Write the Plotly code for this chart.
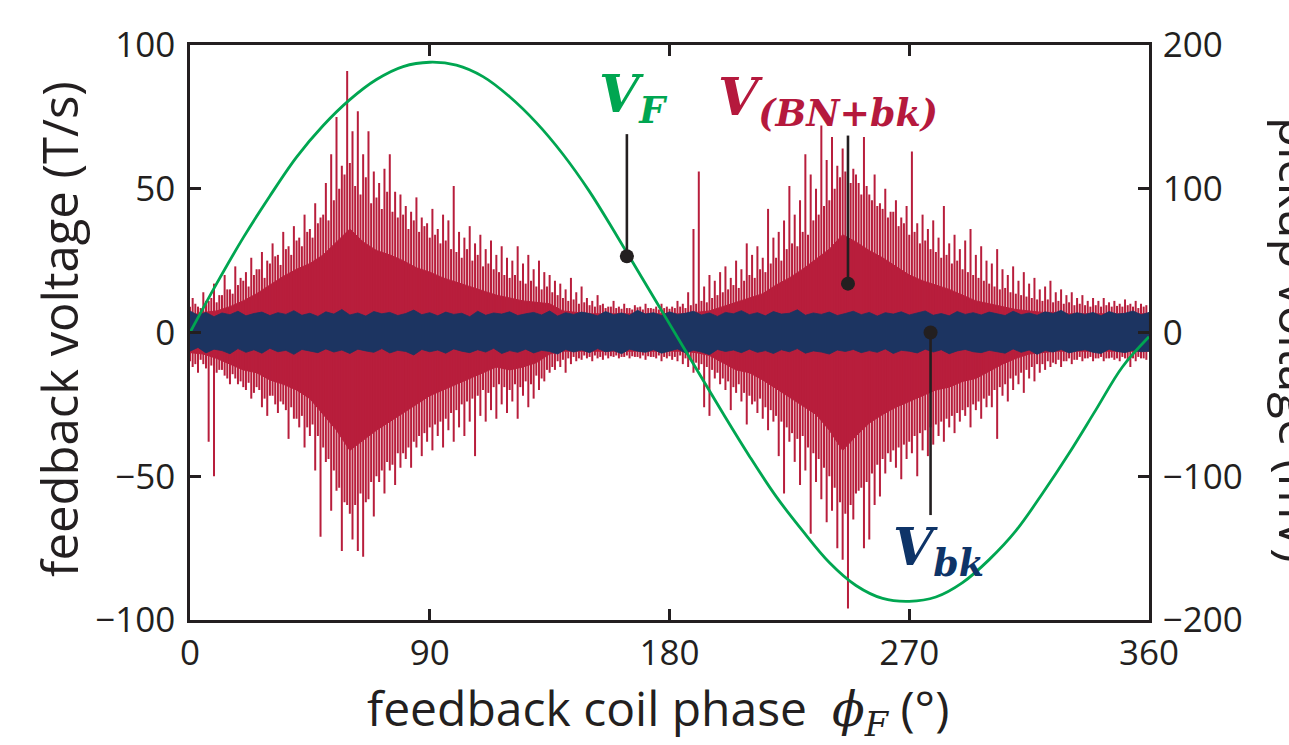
import plotly.graph_objects as go

# ---------------- data ----------------
# feedback coil voltage V_F (T/s), every 10 degrees
PHASE_VF = list(range(0, 361, 10))
VF_TS = [0, 17, 33, 47.5, 61, 72, 81, 88, 92.5, 94,
         93, 89, 82, 73, 62, 49, 34, 18.5, 3, -12.5,
         -28, -43, -57, -69, -80, -88, -92.5, -93.5, -92, -87,
         -79, -69, -56, -42, -27, -12, -1.5]

# V_(BN+bk) dense core envelope (mV), every 5 degrees
PHASE_CORE = list(range(0, 361, 5))
RED_CORE_UP = [12, 14, 15, 18, 22, 27, 33, 39, 44, 48,
               54, 63, 72, 63, 57, 54, 50, 45, 42, 38,
               35, 32, 29, 26, 24, 22, 21, 20, 15, 14,
               13, 13, 13, 13, 13, 13, 13, 13, 14, 15,
               18, 21, 24, 27, 33, 38, 44, 51, 58, 68,
               63, 57, 52, 46, 40, 36, 33, 30, 26, 22,
               20, 18, 16, 15, 14, 14, 13, 13, 13, 13,
               13, 13, 13]
RED_CORE_LO = [-14, -15, -18, -22, -26, -28, -33, -36, -40, -46,
               -57, -68, -82, -75, -68, -62, -56, -50, -44, -40,
               -36, -32, -28, -24, -26, -24, -21, -15, -13, -13,
               -13, -13, -13, -13, -13, -13, -13, -13, -14, -16,
               -21, -26, -28, -33, -39, -45, -51, -57, -68, -82,
               -72, -63, -57, -52, -48, -44, -40, -38, -34, -32,
               -27, -22, -18, -15, -14, -13, -13, -13, -13, -13,
               -13, -13, -13]

# V_(BN+bk) tall spike tips (mV), odd degrees 1..359
PHASE_SPIKE_ODD = list(range(1, 360, 2))
RED_SPIKE_TOP_ODD = [24, 18, 28, 22, 34, 26, 40, 30, 46, 38,
                     42, 52, 44, 56, 50, 62, 54, 70, 60, 74,
                     66, 82, 72, 90, 80, 104, 124, 150, 116, 182,
                     140, 154, 124, 140, 112, 104, 114, 124, 98, 96,
                     88, 84, 94, 80, 76, 86, 72, 82, 78, 102,
                     70, 66, 74, 62, 68, 58, 64, 54, 60, 52,
                     50, 60, 48, 54, 44, 50, 42, 40, 36, 34,
                     30, 38, 28, 32, 24, 22, 26, 20, 18, 22,
                     18, 20, 17, 19, 18, 20, 17, 18, 20, 18,
                     18, 22, 20, 28, 72, 112, 32, 40, 36, 42,
                     46, 38, 50, 44, 62, 54, 60, 52, 86, 66,
                     70, 78, 102, 82, 92, 124, 110, 100, 144, 120,
                     136, 116, 128, 100, 114, 104, 136, 96, 110, 90,
                     100, 84, 92, 80, 88, 126, 76, 82, 72, 78,
                     66, 88, 62, 68, 58, 64, 72, 54, 60, 50,
                     48, 58, 44, 40, 46, 36, 42, 34, 38, 30,
                     32, 36, 28, 30, 26, 28, 24, 26, 22, 24,
                     22, 24, 21, 22, 20, 23, 20, 22, 20, 19]
RED_SPIKE_BOT_ODD = [-24, -28, -22, -76, -100, -26, -30, -36, -32, -34,
                     -40, -46, -38, -52, -58, -44, -56, -50, -74, -60,
                     -66, -80, -72, -96, -142, -90, -124, -110, -152, -120,
                     -144, -152, -156, -116, -128, -104, -112, -96, -106, -94,
                     -88, -94, -80, -86, -76, -82, -72, -80, -68, -76,
                     -66, -72, -62, -86, -58, -62, -54, -60, -50, -56,
                     -48, -60, -44, -52, -46, -40, -34, -28, -26, -24,
                     -28, -22, -20, -19, -18, -20, -18, -19, -18, -17,
                     -18, -17, -18, -17, -18, -19, -17, -18, -20, -18,
                     -19, -20, -22, -24, -28, -26, -52, -58, -32, -36,
                     -40, -54, -42, -48, -64, -50, -56, -60, -68, -62,
                     -86, -112, -76, -90, -106, -96, -140, -104, -116, -132,
                     -124, -150, -158, -192, -130, -110, -150, -144, -120, -114,
                     -98, -90, -94, -102, -88, -84, -100, -82, -86, -78,
                     -72, -76, -66, -70, -62, -58, -66, -54, -60, -52,
                     -52, -74, -44, -48, -40, -36, -42, -32, -34, -28,
                     -26, -24, -22, -24, -20, -22, -19, -20, -18, -20,
                     -18, -20, -18, -19, -20, -18, -24, -20, -18, -19]

# V_(BN+bk) ragged-edge spike tips (mV), even degrees 0..358
PHASE_SPIKE_EVEN = list(range(0, 359, 2))
RED_SPIKE_TOP_EVEN = [18, 20, 17, 22, 24, 21, 26, 30, 27, 33,
                      36, 32, 40, 44, 38, 48, 53, 47, 58, 54,
                      64, 60, 70, 66, 76, 82, 78, 92, 100, 110,
                      118, 102, 96, 108, 90, 94, 86, 98, 84, 80,
                      82, 72, 78, 70, 74, 66, 68, 62, 64, 58,
                      56, 52, 58, 50, 54, 46, 48, 44, 42, 40,
                      38, 40, 36, 34, 36, 32, 30, 32, 28, 26,
                      24, 22, 23, 20, 21, 19, 18, 19, 17, 18,
                      17, 16.5, 17, 16, 17.5, 16, 17, 16.5, 16, 17,
                      16.5, 17, 18, 17, 19, 20, 22, 21, 24, 26,
                      28, 30, 33, 31, 36, 40, 38, 44, 42, 48,
                      52, 50, 58, 62, 60, 70, 68, 78, 82, 88,
                      92, 100, 108, 112, 104, 110, 96, 102, 92, 88,
                      86, 80, 84, 74, 76, 68, 70, 62, 64, 58,
                      56, 52, 54, 48, 50, 44, 42, 40, 38, 36,
                      34, 32, 30, 31, 28, 27, 26, 25, 24, 23,
                      22, 23, 21, 22, 20, 21, 19, 20, 19, 18,
                      19, 18, 19, 18, 18.5, 18, 19, 18, 17, 18]
RED_SPIKE_BOT_EVEN = [-20, -22, -19, -25, -23, -28, -26, -32, -29, -36,
                      -38, -35, -42, -40, -46, -44, -50, -48, -54, -52,
                      -60, -58, -66, -64, -72, -80, -88, -96, -108, -118,
                      -126, -120, -112, -118, -104, -100, -96, -90, -92, -84,
                      -84, -80, -76, -72, -70, -66, -64, -62, -60, -56,
                      -54, -50, -48, -46, -44, -40, -42, -38, -36, -38,
                      -40, -36, -38, -34, -36, -30, -32, -26, -24, -20,
                      -19, -18, -17, -18, -16, -17, -16, -17, -16, -16.5,
                      -16, -17, -16, -16.5, -17, -16, -16.5, -17, -16, -17,
                      -16.5, -17, -16, -18, -19, -21, -22, -24, -26, -28,
                      -32, -34, -38, -36, -42, -44, -48, -46, -52, -54,
                      -58, -62, -66, -70, -74, -72, -80, -84, -88, -94,
                      -100, -108, -118, -126, -120, -112, -108, -104, -98, -92,
                      -88, -84, -82, -80, -78, -76, -72, -70, -68, -66,
                      -64, -62, -60, -58, -56, -54, -52, -50, -48, -46,
                      -44, -40, -38, -36, -32, -30, -28, -26, -24, -22,
                      -22, -20, -21, -19, -20, -18, -19, -17, -18, -17,
                      -18, -17, -18, -17.5, -18, -17, -19, -18, -17, -18]

# V_bk band edges (mV), every 3 degrees
PHASE_BLUE = list(range(0, 361, 3))
BLUE_UP = [15, 12, 14, 11, 13.6, 12.4, 14.8, 11.6, 13.2, 14.2,
           11.8, 13.8, 12.6, 15.2, 12, 13.4, 11.2, 14.4, 12.8, 16,
           12.2, 13.6, 11.4, 14.6, 13, 14, 11.8, 13.2, 15.6, 12.4,
           13.8, 11.6, 14.2, 12.6, 13.4, 11, 14.8, 12, 13.6, 12.8,
           14.4, 11.8, 13, 14, 12.2, 15, 11.4, 13.8, 12.6, 14.2,
           13.2, 11.6, 14.6, 12.4, 13.6, 12, 15.4, 12.8, 13.8, 11.8,
           14.4, 12.6, 13.4, 14.8, 12.2, 13.6, 11.2, 14, 13, 15.2,
           12.4, 13.8, 11.6, 14.6, 12.8, 13.4, 15.8, 12, 13.6, 12.6,
           14.2, 11.8, 13.2, 14.8, 12.4, 14, 11.4, 13.8, 12.8, 14.4,
           12.2, 13.6, 15, 12, 13.2, 11.6, 14.6, 12.6, 13.8, 12.2,
           14.2, 13, 11.8, 14.8, 12.4, 13.6, 12, 14.4, 13.2, 15.4,
           12.2, 13.8, 12.6, 14, 11.6, 14.6, 12.8, 13.4, 15, 12.4,
           14]
BLUE_LO = [-13, -10.4, -14.2, -11.6, -12.6, -14.8, -11.2, -13.8, -12, -14.4,
           -11, -13.4, -12.4, -15.2, -11.8, -13, -14, -11.4, -13.6, -12.2,
           -14.6, -11.6, -12.8, -13.8, -11.2, -14.2, -12.4, -13.2, -15.6, -11.8,
           -13.4, -12.2, -14.4, -11.4, -13, -14, -12, -13.6, -11, -14.6,
           -12.6, -13.8, -11.6, -14.2, -12.4, -13.2, -15, -11.8, -13.6, -12.2,
           -14, -11.2, -13.4, -12.6, -14.8, -11.6, -13, -13.8, -12, -14.4,
           -12.8, -11.4, -14.2, -12.4, -13.6, -15.4, -11.8, -13.2, -12.2, -14,
           -11.6, -13.8, -12.6, -14.6, -12, -13.4, -11.2, -14.4, -12.8, -13.6,
           -15, -12.2, -13.2, -11.8, -14, -12.6, -13.8, -11.4, -14.6, -12.4,
           -13, -14.2, -11.6, -13.6, -12, -14.8, -12.8, -11.8, -13.4, -14,
           -12.4, -13.2, -14.4, -11.4, -13.8, -12.2, -15.2, -12.6, -13.6, -11.8,
           -14.2, -12.8, -12, -13.8, -14.6, -11.6, -13.2, -14, -12.4, -13.4,
           -13]

X_TICKS = [0, 90, 180, 270, 360]
LEFT_TICKS = [-100, -50, 0, 50, 100]
RIGHT_TICKS = [-200, -100, 0, 100, 200]

# ---------------- styling ----------------
RED = "#B81E3C"
BLUE = "#1C3461"
GREEN = "#00A651"
INK = "#231F20"
SANS = "Open Sans"
SERIF = "DejaVu Serif"

W, H = 1289, 745
ML, MR, MT, MB = 190, 140, 45, 125
PW, PH = W - ML - MR, H - MT - MB


def px_x(px):
    return (px - ML) / PW


def px_y(py):
    return (H - MB - py) / PH


fig = go.Figure()

# red core fill (pickup, mV axis)
fig.add_trace(go.Scatter(
    x=PHASE_CORE + PHASE_CORE[::-1],
    y=RED_CORE_UP + RED_CORE_LO[::-1],
    mode="lines", fill="toself", fillcolor=RED,
    line=dict(color=RED, width=1), yaxis="y", hoverinfo="skip"))

# red spikes (two interleaved sets)
sx, sy = [], []
for ph, tops, bots in ((PHASE_SPIKE_EVEN, RED_SPIKE_TOP_EVEN, RED_SPIKE_BOT_EVEN),
                       (PHASE_SPIKE_ODD, RED_SPIKE_TOP_ODD, RED_SPIKE_BOT_ODD)):
    for p, t, b in zip(ph, tops, bots):
        sx += [p, p, None]
        sy += [b, t, None]
fig.add_trace(go.Scatter(x=sx, y=sy, mode="lines",
                         line=dict(color=RED, width=2.0),
                         yaxis="y", hoverinfo="skip"))

# blue band
fig.add_trace(go.Scatter(
    x=PHASE_BLUE + PHASE_BLUE[::-1],
    y=BLUE_UP + BLUE_LO[::-1],
    mode="lines", fill="toself", fillcolor=BLUE,
    line=dict(color=BLUE, width=0.8), yaxis="y", hoverinfo="skip"))

# callouts for red and blue (mV axis)
RED_CALL = (247, 137, 34)
BLUE_CALL = (278, 0, -127)
for (cx, y0, y1) in (RED_CALL, BLUE_CALL):
    fig.add_trace(go.Scatter(x=[cx, cx], y=[y0, y1], mode="lines",
                             line=dict(color=INK, width=2.6), yaxis="y",
                             hoverinfo="skip"))
fig.add_trace(go.Scatter(x=[RED_CALL[0], BLUE_CALL[0]],
                         y=[RED_CALL[2], BLUE_CALL[1]], mode="markers",
                         marker=dict(color=INK, size=14), yaxis="y",
                         hoverinfo="skip"))

# green feedback voltage (T/s axis, drawn on top)
fig.add_trace(go.Scatter(x=PHASE_VF, y=VF_TS, mode="lines",
                         line=dict(color=GREEN, width=2.8, shape="spline"),
                         yaxis="y2", hoverinfo="skip"))
VF_CALL = (164, 69, 26.5)
fig.add_trace(go.Scatter(x=[VF_CALL[0], VF_CALL[0]], y=[VF_CALL[1], VF_CALL[2]],
                         mode="lines", line=dict(color=INK, width=2.6),
                         yaxis="y2", hoverinfo="skip"))
fig.add_trace(go.Scatter(x=[VF_CALL[0]], y=[VF_CALL[2]], mode="markers",
                         marker=dict(color=INK, size=14), yaxis="y2",
                         hoverinfo="skip"))

axis_common = dict(ticks="inside", ticklen=11, tickwidth=2.5, tickcolor=INK,
                   showline=True, linewidth=2.5, linecolor=INK,
                   showgrid=False, zeroline=False, automargin=False,
                   tickfont=dict(family=SANS, size=35, color=INK))

fig.update_layout(
    width=W, height=H,
    margin=dict(l=ML, r=MR, t=MT, b=MB),
    plot_bgcolor="white", paper_bgcolor="white",
    showlegend=False,
    xaxis=dict(range=[0, 360], tickvals=X_TICKS, mirror="ticks",
               ticklabelstandoff=0, **axis_common),
    yaxis=dict(range=[-200, 200], tickvals=RIGHT_TICKS, side="right",
               ticklabelstandoff=4, **axis_common),
    yaxis2=dict(range=[-100, 100], tickvals=LEFT_TICKS, side="left",
                overlaying="y", ticklabelstandoff=5, **axis_common),
)

ann = []
# axis titles
ann.append(dict(text="feedback voltage (T/s)", textangle=-90,
                x=px_x(59), y=px_y(329), xref="paper", yref="paper",
                xanchor="center", yanchor="middle", showarrow=False,
                font=dict(family=SANS, size=49, color=INK)))
ann.append(dict(text="pickup voltage (mV)", textangle=90,
                x=px_x(1298), y=px_y(340), xref="paper", yref="paper",
                xanchor="center", yanchor="middle", showarrow=False,
                font=dict(family=SANS, size=49, color=INK)))
ann.append(dict(text=("feedback coil phase  "
                      "<span style='font-family:DejaVu Serif'><i>ϕ</i>"
                      "<sub><i>F</i></sub></span> (°)"),
                x=px_x(658), y=px_y(709), xref="paper", yref="paper",
                xanchor="center", yanchor="middle", showarrow=False,
                font=dict(family=SANS, size=48, color=INK)))
# series labels
ann.append(dict(text="<b><i>V</i></b><sub><b><i>F</i></b></sub>",
                x=px_x(597), y=px_y(97), xref="paper", yref="paper",
                xanchor="left", yanchor="middle", showarrow=False,
                font=dict(family=SERIF, size=52, color=GREEN)))
ann.append(dict(text="<b><i>V</i></b><sub><b><i>(BN+bk)</i></b></sub>",
                x=px_x(716), y=px_y(100), xref="paper", yref="paper",
                xanchor="left", yanchor="middle", showarrow=False,
                font=dict(family=SERIF, size=52, color="#B5193D")))
ann.append(dict(text="<b><i>V</i></b><sub><b><i>bk</i></b></sub>",
                x=px_x(891), y=px_y(550), xref="paper", yref="paper",
                xanchor="left", yanchor="middle", showarrow=False,
                font=dict(family=SERIF, size=52, color="#0E3468")))
fig.update_layout(annotations=ann)

fig.write_html("out.html",
               config={"displayModeBar": False},
               post_script="document.body.style.margin='0';"
                           "document.body.style.overflow='hidden';")
